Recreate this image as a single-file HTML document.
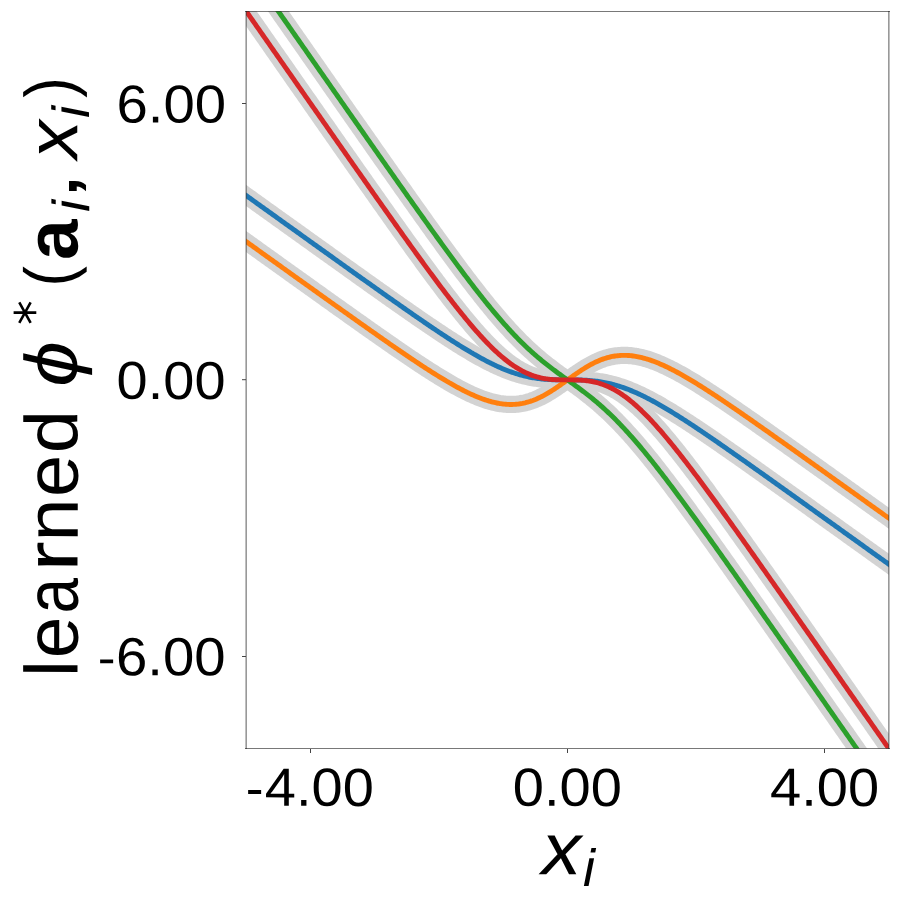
<!DOCTYPE html><html><head><meta charset="utf-8"><style>html,body{margin:0;padding:0;background:#fff;overflow:hidden}svg{display:block}text{font-family:"Liberation Sans",sans-serif;text-rendering:geometricPrecision}</style></head><body>
<svg width="900" height="900" viewBox="0 0 900 900">
<rect width="900" height="900" fill="#fff"/>
<defs><clipPath id="c"><rect x="246.25" y="11.30" width="642.50" height="737.20"/></clipPath></defs>
<g clip-path="url(#c)" fill="none" stroke-linejoin="round" stroke-linecap="butt">
<polyline points="207.70,167.95 208.98,168.88 210.27,169.80 211.56,170.72 212.84,171.64 214.12,172.56 215.41,173.48 216.69,174.40 217.98,175.33 219.27,176.25 220.55,177.17 221.84,178.09 223.12,179.01 224.41,179.93 225.69,180.85 226.98,181.78 228.26,182.70 229.55,183.62 230.83,184.54 232.12,185.46 233.40,186.38 234.69,187.30 235.97,188.22 237.26,189.15 238.54,190.07 239.83,190.99 241.11,191.91 242.40,192.83 243.68,193.75 244.97,194.67 246.25,195.60 247.54,196.52 248.82,197.44 250.11,198.36 251.39,199.28 252.68,200.20 253.96,201.12 255.25,202.04 256.53,202.97 257.82,203.89 259.10,204.81 260.39,205.73 261.67,206.65 262.96,207.57 264.24,208.49 265.53,209.41 266.81,210.34 268.10,211.26 269.38,212.18 270.67,213.10 271.95,214.02 273.24,214.94 274.52,215.86 275.81,216.78 277.09,217.71 278.38,218.63 279.66,219.55 280.95,220.47 282.23,221.39 283.51,222.31 284.80,223.23 286.09,224.15 287.37,225.07 288.66,225.99 289.94,226.91 291.23,227.84 292.51,228.76 293.80,229.68 295.08,230.60 296.37,231.52 297.65,232.44 298.94,233.36 300.22,234.28 301.50,235.20 302.79,236.12 304.08,237.04 305.36,237.96 306.65,238.88 307.93,239.80 309.22,240.72 310.50,241.64 311.79,242.56 313.07,243.48 314.36,244.40 315.64,245.32 316.93,246.24 318.21,247.16 319.50,248.08 320.78,249.00 322.07,249.92 323.35,250.84 324.64,251.76 325.92,252.68 327.21,253.60 328.49,254.52 329.78,255.44 331.06,256.36 332.35,257.28 333.63,258.20 334.92,259.12 336.20,260.04 337.49,260.95 338.77,261.87 340.06,262.79 341.34,263.71 342.62,264.63 343.91,265.55 345.20,266.46 346.48,267.38 347.77,268.30 349.05,269.22 350.34,270.13 351.62,271.05 352.91,271.97 354.19,272.89 355.48,273.80 356.76,274.72 358.05,275.63 359.33,276.55 360.62,277.47 361.90,278.38 363.19,279.30 364.47,280.21 365.75,281.13 367.04,282.04 368.33,282.96 369.61,283.87 370.90,284.78 372.18,285.70 373.47,286.61 374.75,287.52 376.04,288.43 377.32,289.35 378.61,290.26 379.89,291.17 381.18,292.08 382.46,292.99 383.75,293.90 385.03,294.81 386.32,295.72 387.60,296.63 388.88,297.53 390.17,298.44 391.46,299.35 392.74,300.25 394.03,301.16 395.31,302.06 396.60,302.97 397.88,303.87 399.17,304.77 400.45,305.67 401.74,306.58 403.02,307.48 404.31,308.37 405.59,309.27 406.88,310.17 408.16,311.07 409.45,311.96 410.73,312.86 412.02,313.75 413.30,314.64 414.59,315.53 415.87,316.42 417.16,317.31 418.44,318.20 419.73,319.09 421.01,319.97 422.30,320.85 423.58,321.73 424.87,322.61 426.15,323.49 427.44,324.37 428.72,325.24 430.00,326.12 431.29,326.99 432.58,327.86 433.86,328.72 435.15,329.59 436.43,330.45 437.72,331.31 439.00,332.17 440.29,333.02 441.57,333.88 442.86,334.73 444.14,335.57 445.43,336.42 446.71,337.26 448.00,338.10 449.28,338.93 450.57,339.76 451.85,340.59 453.14,341.41 454.42,342.23 455.71,343.05 456.99,343.86 458.27,344.67 459.56,345.48 460.85,346.28 462.13,347.07 463.42,347.86 464.70,348.65 465.99,349.43 467.27,350.20 468.56,350.97 469.84,351.73 471.12,352.49 472.41,353.24 473.69,353.99 474.98,354.73 476.26,355.46 477.55,356.19 478.83,356.91 480.12,357.62 481.40,358.32 482.69,359.02 483.98,359.71 485.26,360.39 486.54,361.06 487.83,361.72 489.12,362.38 490.40,363.02 491.69,363.66 492.97,364.28 494.25,364.90 495.54,365.50 496.83,366.10 498.11,366.69 499.39,367.26 500.68,367.82 501.97,368.38 503.25,368.92 504.54,369.44 505.82,369.96 507.11,370.46 508.39,370.96 509.68,371.44 510.96,371.90 512.25,372.36 513.53,372.80 514.82,373.22 516.10,373.64 517.38,374.03 518.67,374.42 519.96,374.79 521.24,375.15 522.53,375.49 523.81,375.82 525.10,376.14 526.38,376.44 527.66,376.73 528.95,377.00 530.24,377.26 531.52,377.50 532.81,377.73 534.09,377.95 535.38,378.15 536.66,378.34 537.94,378.52 539.23,378.69 540.51,378.84 541.80,378.98 543.09,379.10 544.37,379.22 545.65,379.32 546.94,379.42 548.23,379.50 549.51,379.57 550.80,379.64 552.08,379.69 553.37,379.74 554.65,379.78 555.93,379.81 557.22,379.84 558.51,379.86 559.79,379.87 561.08,379.88 562.36,379.89 563.64,379.90 564.93,379.90 566.22,379.90 567.50,379.90 568.79,379.90 570.07,379.90 571.36,379.90 572.64,379.91 573.92,379.92 575.21,379.93 576.50,379.94 577.78,379.96 579.07,379.99 580.35,380.02 581.63,380.06 582.92,380.11 584.21,380.16 585.49,380.23 586.78,380.30 588.06,380.38 589.35,380.48 590.63,380.58 591.91,380.70 593.20,380.82 594.49,380.96 595.77,381.11 597.06,381.28 598.34,381.46 599.62,381.65 600.91,381.85 602.20,382.07 603.48,382.30 604.77,382.54 606.05,382.80 607.34,383.07 608.62,383.36 609.90,383.66 611.19,383.98 612.48,384.31 613.76,384.65 615.05,385.01 616.33,385.38 617.62,385.77 618.90,386.16 620.19,386.58 621.47,387.00 622.76,387.44 624.04,387.90 625.33,388.36 626.61,388.84 627.89,389.34 629.18,389.84 630.47,390.36 631.75,390.88 633.04,391.42 634.32,391.98 635.61,392.54 636.89,393.11 638.18,393.70 639.46,394.30 640.75,394.90 642.03,395.52 643.32,396.14 644.60,396.78 645.88,397.42 647.17,398.08 648.46,398.74 649.74,399.41 651.03,400.09 652.31,400.78 653.60,401.48 654.88,402.18 656.17,402.89 657.45,403.61 658.74,404.34 660.02,405.07 661.31,405.81 662.59,406.56 663.88,407.31 665.16,408.07 666.45,408.83 667.73,409.60 669.02,410.37 670.30,411.15 671.59,411.94 672.87,412.73 674.15,413.52 675.44,414.32 676.73,415.13 678.01,415.94 679.30,416.75 680.58,417.57 681.87,418.39 683.15,419.21 684.44,420.04 685.72,420.87 687.01,421.70 688.29,422.54 689.58,423.38 690.86,424.23 692.14,425.07 693.43,425.92 694.72,426.78 696.00,427.63 697.29,428.49 698.57,429.35 699.86,430.21 701.14,431.08 702.43,431.94 703.71,432.81 705.00,433.68 706.28,434.56 707.57,435.43 708.85,436.31 710.13,437.19 711.42,438.07 712.71,438.95 713.99,439.83 715.28,440.71 716.56,441.60 717.85,442.49 719.13,443.38 720.42,444.27 721.70,445.16 722.99,446.05 724.27,446.94 725.56,447.84 726.84,448.73 728.12,449.63 729.41,450.53 730.70,451.43 731.98,452.32 733.26,453.22 734.55,454.13 735.84,455.03 737.12,455.93 738.40,456.83 739.69,457.74 740.98,458.64 742.26,459.55 743.55,460.45 744.83,461.36 746.12,462.27 747.40,463.17 748.68,464.08 749.97,464.99 751.26,465.90 752.54,466.81 753.83,467.72 755.11,468.63 756.40,469.54 757.68,470.45 758.97,471.37 760.25,472.28 761.54,473.19 762.82,474.10 764.11,475.02 765.39,475.93 766.68,476.84 767.96,477.76 769.25,478.67 770.53,479.59 771.81,480.50 773.10,481.42 774.38,482.33 775.67,483.25 776.95,484.17 778.24,485.08 779.53,486.00 780.81,486.91 782.10,487.83 783.38,488.75 784.67,489.67 785.95,490.58 787.24,491.50 788.52,492.42 789.81,493.34 791.09,494.25 792.38,495.17 793.66,496.09 794.95,497.01 796.23,497.93 797.51,498.85 798.80,499.76 800.09,500.68 801.37,501.60 802.65,502.52 803.94,503.44 805.23,504.36 806.51,505.28 807.79,506.20 809.08,507.12 810.37,508.04 811.65,508.96 812.94,509.88 814.22,510.80 815.51,511.72 816.79,512.64 818.08,513.56 819.36,514.48 820.65,515.40 821.93,516.32 823.22,517.24 824.50,518.16 825.79,519.08 827.07,520.00 828.36,520.92 829.64,521.84 830.93,522.76 832.21,523.68 833.50,524.60 834.78,525.52 836.06,526.44 837.35,527.36 838.63,528.28 839.92,529.20 841.20,530.12 842.49,531.04 843.77,531.96 845.06,532.89 846.34,533.81 847.63,534.73 848.92,535.65 850.20,536.57 851.49,537.49 852.77,538.41 854.06,539.33 855.34,540.25 856.62,541.17 857.91,542.09 859.20,543.02 860.48,543.94 861.76,544.86 863.05,545.78 864.34,546.70 865.62,547.62 866.90,548.54 868.19,549.46 869.48,550.39 870.76,551.31 872.04,552.23 873.33,553.15 874.62,554.07 875.90,554.99 877.18,555.91 878.47,556.83 879.76,557.76 881.04,558.68 882.33,559.60 883.61,560.52 884.90,561.44 886.18,562.36 887.47,563.28 888.75,564.20 890.04,565.13 891.32,566.05 892.61,566.97 893.89,567.89 895.18,568.81 896.46,569.73 897.75,570.65 899.03,571.58 900.32,572.50 901.60,573.42 902.88,574.34 904.17,575.26 905.46,576.18 906.74,577.10 908.02,578.02 909.31,578.95 910.60,579.87 911.88,580.79 913.17,581.71 914.45,582.63 915.74,583.55 917.02,584.47 918.31,585.40 919.59,586.32 920.88,587.24 922.16,588.16 923.45,589.08 924.73,590.00 926.01,590.92 927.30,591.85" stroke="#d3d3d3" stroke-width="17.20"/>
<polyline points="207.70,214.03 208.98,214.95 210.27,215.87 211.56,216.79 212.84,217.71 214.12,218.63 215.41,219.56 216.69,220.48 217.98,221.40 219.27,222.32 220.55,223.24 221.84,224.16 223.12,225.08 224.41,226.01 225.69,226.93 226.98,227.85 228.26,228.77 229.55,229.69 230.83,230.61 232.12,231.53 233.40,232.45 234.69,233.38 235.97,234.30 237.26,235.22 238.54,236.14 239.83,237.06 241.11,237.98 242.40,238.90 243.68,239.82 244.97,240.75 246.25,241.67 247.54,242.59 248.82,243.51 250.11,244.43 251.39,245.35 252.68,246.27 253.96,247.19 255.25,248.11 256.53,249.04 257.82,249.96 259.10,250.88 260.39,251.80 261.67,252.72 262.96,253.64 264.24,254.56 265.53,255.48 266.81,256.40 268.10,257.32 269.38,258.24 270.67,259.17 271.95,260.09 273.24,261.01 274.52,261.93 275.81,262.85 277.09,263.77 278.38,264.69 279.66,265.61 280.95,266.53 282.23,267.45 283.51,268.37 284.80,269.29 286.09,270.21 287.37,271.13 288.66,272.05 289.94,272.97 291.23,273.89 292.51,274.81 293.80,275.73 295.08,276.65 296.37,277.57 297.65,278.49 298.94,279.41 300.22,280.33 301.50,281.25 302.79,282.17 304.08,283.09 305.36,284.01 306.65,284.93 307.93,285.85 309.22,286.77 310.50,287.69 311.79,288.61 313.07,289.53 314.36,290.44 315.64,291.36 316.93,292.28 318.21,293.20 319.50,294.12 320.78,295.04 322.07,295.95 323.35,296.87 324.64,297.79 325.92,298.71 327.21,299.63 328.49,300.54 329.78,301.46 331.06,302.38 332.35,303.29 333.63,304.21 334.92,305.13 336.20,306.04 337.49,306.96 338.77,307.87 340.06,308.79 341.34,309.70 342.62,310.62 343.91,311.53 345.20,312.45 346.48,313.36 347.77,314.28 349.05,315.19 350.34,316.10 351.62,317.02 352.91,317.93 354.19,318.84 355.48,319.75 356.76,320.66 358.05,321.57 359.33,322.48 360.62,323.39 361.90,324.30 363.19,325.21 364.47,326.12 365.75,327.03 367.04,327.94 368.33,328.84 369.61,329.75 370.90,330.66 372.18,331.56 373.47,332.47 374.75,333.37 376.04,334.27 377.32,335.17 378.61,336.08 379.89,336.98 381.18,337.88 382.46,338.78 383.75,339.67 385.03,340.57 386.32,341.47 387.60,342.36 388.88,343.25 390.17,344.15 391.46,345.04 392.74,345.93 394.03,346.82 395.31,347.71 396.60,348.59 397.88,349.48 399.17,350.36 400.45,351.24 401.74,352.12 403.02,353.00 404.31,353.88 405.59,354.76 406.88,355.63 408.16,356.50 409.45,357.37 410.73,358.24 412.02,359.10 413.30,359.97 414.59,360.83 415.87,361.68 417.16,362.54 418.44,363.39 419.73,364.24 421.01,365.09 422.30,365.94 423.58,366.78 424.87,367.61 426.15,368.45 427.44,369.28 428.72,370.11 430.00,370.93 431.29,371.75 432.58,372.57 433.86,373.38 435.15,374.19 436.43,374.99 437.72,375.79 439.00,376.59 440.29,377.37 441.57,378.16 442.86,378.94 444.14,379.71 445.43,380.47 446.71,381.24 448.00,381.99 449.28,382.74 450.57,383.48 451.85,384.21 453.14,384.94 454.42,385.66 455.71,386.37 456.99,387.08 458.27,387.77 459.56,388.46 460.85,389.14 462.13,389.80 463.42,390.46 464.70,391.11 465.99,391.75 467.27,392.38 468.56,393.00 469.84,393.60 471.12,394.20 472.41,394.78 473.69,395.35 474.98,395.91 476.26,396.45 477.55,396.98 478.83,397.50 480.12,398.00 481.40,398.48 482.69,398.96 483.98,399.41 485.26,399.85 486.54,400.27 487.83,400.68 489.12,401.06 490.40,401.43 491.69,401.78 492.97,402.11 494.25,402.42 495.54,402.71 496.83,402.98 498.11,403.23 499.39,403.46 500.68,403.66 501.97,403.85 503.25,404.01 504.54,404.14 505.82,404.25 507.11,404.34 508.39,404.40 509.68,404.44 510.96,404.45 512.25,404.44 513.53,404.39 514.82,404.33 516.10,404.23 517.38,404.11 518.67,403.96 519.96,403.78 521.24,403.57 522.53,403.34 523.81,403.08 525.10,402.79 526.38,402.47 527.66,402.12 528.95,401.74 530.24,401.34 531.52,400.91 532.81,400.45 534.09,399.96 535.38,399.45 536.66,398.91 537.94,398.34 539.23,397.74 540.51,397.13 541.80,396.48 543.09,395.81 544.37,395.12 545.65,394.41 546.94,393.68 548.23,392.92 549.51,392.15 550.80,391.35 552.08,390.54 553.37,389.72 554.65,388.87 555.93,388.02 557.22,387.15 558.51,386.27 559.79,385.38 561.08,384.48 562.36,383.57 563.64,382.66 564.93,381.74 566.22,380.82 567.50,379.90 568.79,378.98 570.07,378.06 571.36,377.14 572.64,376.23 573.92,375.32 575.21,374.42 576.50,373.53 577.78,372.65 579.07,371.78 580.35,370.93 581.63,370.08 582.92,369.26 584.21,368.45 585.49,367.65 586.78,366.88 588.06,366.12 589.35,365.39 590.63,364.68 591.91,363.99 593.20,363.32 594.49,362.67 595.77,362.06 597.06,361.46 598.34,360.89 599.62,360.35 600.91,359.84 602.20,359.35 603.48,358.89 604.77,358.46 606.05,358.06 607.34,357.68 608.62,357.33 609.90,357.01 611.19,356.72 612.48,356.46 613.76,356.23 615.05,356.02 616.33,355.84 617.62,355.69 618.90,355.57 620.19,355.47 621.47,355.41 622.76,355.36 624.04,355.35 625.33,355.36 626.61,355.40 627.89,355.46 629.18,355.55 630.47,355.66 631.75,355.79 633.04,355.95 634.32,356.14 635.61,356.34 636.89,356.57 638.18,356.82 639.46,357.09 640.75,357.38 642.03,357.69 643.32,358.02 644.60,358.37 645.88,358.74 647.17,359.12 648.46,359.53 649.74,359.95 651.03,360.39 652.31,360.84 653.60,361.32 654.88,361.80 656.17,362.30 657.45,362.82 658.74,363.35 660.02,363.89 661.31,364.45 662.59,365.02 663.88,365.60 665.16,366.20 666.45,366.80 667.73,367.42 669.02,368.05 670.30,368.69 671.59,369.34 672.87,370.00 674.15,370.66 675.44,371.34 676.73,372.03 678.01,372.72 679.30,373.43 680.58,374.14 681.87,374.86 683.15,375.59 684.44,376.32 685.72,377.06 687.01,377.81 688.29,378.56 689.58,379.33 690.86,380.09 692.14,380.86 693.43,381.64 694.72,382.43 696.00,383.21 697.29,384.01 698.57,384.81 699.86,385.61 701.14,386.42 702.43,387.23 703.71,388.05 705.00,388.87 706.28,389.69 707.57,390.52 708.85,391.35 710.13,392.19 711.42,393.02 712.71,393.86 713.99,394.71 715.28,395.56 716.56,396.41 717.85,397.26 719.13,398.12 720.42,398.97 721.70,399.83 722.99,400.70 724.27,401.56 725.56,402.43 726.84,403.30 728.12,404.17 729.41,405.04 730.70,405.92 731.98,406.80 733.26,407.68 734.55,408.56 735.84,409.44 737.12,410.32 738.40,411.21 739.69,412.09 740.98,412.98 742.26,413.87 743.55,414.76 744.83,415.65 746.12,416.55 747.40,417.44 748.68,418.33 749.97,419.23 751.26,420.13 752.54,421.02 753.83,421.92 755.11,422.82 756.40,423.72 757.68,424.63 758.97,425.53 760.25,426.43 761.54,427.33 762.82,428.24 764.11,429.14 765.39,430.05 766.68,430.96 767.96,431.86 769.25,432.77 770.53,433.68 771.81,434.59 773.10,435.50 774.38,436.41 775.67,437.32 776.95,438.23 778.24,439.14 779.53,440.05 780.81,440.96 782.10,441.87 783.38,442.78 784.67,443.70 785.95,444.61 787.24,445.52 788.52,446.44 789.81,447.35 791.09,448.27 792.38,449.18 793.66,450.10 794.95,451.01 796.23,451.93 797.51,452.84 798.80,453.76 800.09,454.67 801.37,455.59 802.65,456.51 803.94,457.42 805.23,458.34 806.51,459.26 807.79,460.17 809.08,461.09 810.37,462.01 811.65,462.93 812.94,463.85 814.22,464.76 815.51,465.68 816.79,466.60 818.08,467.52 819.36,468.44 820.65,469.36 821.93,470.27 823.22,471.19 824.50,472.11 825.79,473.03 827.07,473.95 828.36,474.87 829.64,475.79 830.93,476.71 832.21,477.63 833.50,478.55 834.78,479.47 836.06,480.39 837.35,481.31 838.63,482.23 839.92,483.15 841.20,484.07 842.49,484.99 843.77,485.91 845.06,486.83 846.34,487.75 847.63,488.67 848.92,489.59 850.20,490.51 851.49,491.43 852.77,492.35 854.06,493.27 855.34,494.19 856.62,495.11 857.91,496.03 859.20,496.95 860.48,497.87 861.76,498.79 863.05,499.71 864.34,500.63 865.62,501.56 866.90,502.48 868.19,503.40 869.48,504.32 870.76,505.24 872.04,506.16 873.33,507.08 874.62,508.00 875.90,508.92 877.18,509.84 878.47,510.76 879.76,511.69 881.04,512.61 882.33,513.53 883.61,514.45 884.90,515.37 886.18,516.29 887.47,517.21 888.75,518.13 890.04,519.05 891.32,519.98 892.61,520.90 893.89,521.82 895.18,522.74 896.46,523.66 897.75,524.58 899.03,525.50 900.32,526.42 901.60,527.35 902.88,528.27 904.17,529.19 905.46,530.11 906.74,531.03 908.02,531.95 909.31,532.87 910.60,533.79 911.88,534.72 913.17,535.64 914.45,536.56 915.74,537.48 917.02,538.40 918.31,539.32 919.59,540.24 920.88,541.17 922.16,542.09 923.45,543.01 924.73,543.93 926.01,544.85 927.30,545.77" stroke="#d3d3d3" stroke-width="17.20"/>
<polyline points="207.70,-90.07 208.98,-88.22 210.27,-86.38 211.56,-84.54 212.84,-82.69 214.12,-80.85 215.41,-79.01 216.69,-77.17 217.98,-75.32 219.27,-73.48 220.55,-71.64 221.84,-69.79 223.12,-67.95 224.41,-66.11 225.69,-64.27 226.98,-62.42 228.26,-60.58 229.55,-58.74 230.83,-56.89 232.12,-55.05 233.40,-53.21 234.69,-51.36 235.97,-49.52 237.26,-47.68 238.54,-45.84 239.83,-43.99 241.11,-42.15 242.40,-40.31 243.68,-38.46 244.97,-36.62 246.25,-34.78 247.54,-32.94 248.82,-31.09 250.11,-29.25 251.39,-27.41 252.68,-25.57 253.96,-23.72 255.25,-21.88 256.53,-20.04 257.82,-18.19 259.10,-16.35 260.39,-14.51 261.67,-12.67 262.96,-10.82 264.24,-8.98 265.53,-7.14 266.81,-5.29 268.10,-3.45 269.38,-1.61 270.67,0.23 271.95,2.08 273.24,3.92 274.52,5.76 275.81,7.60 277.09,9.45 278.38,11.29 279.66,13.13 280.95,14.97 282.23,16.82 283.51,18.66 284.80,20.50 286.09,22.34 287.37,24.19 288.66,26.03 289.94,27.87 291.23,29.71 292.51,31.56 293.80,33.40 295.08,35.24 296.37,37.08 297.65,38.92 298.94,40.77 300.22,42.61 301.50,44.45 302.79,46.29 304.08,48.13 305.36,49.98 306.65,51.82 307.93,53.66 309.22,55.50 310.50,57.34 311.79,59.19 313.07,61.03 314.36,62.87 315.64,64.71 316.93,66.55 318.21,68.39 319.50,70.24 320.78,72.08 322.07,73.92 323.35,75.76 324.64,77.60 325.92,79.44 327.21,81.28 328.49,83.12 329.78,84.96 331.06,86.80 332.35,88.65 333.63,90.49 334.92,92.33 336.20,94.17 337.49,96.01 338.77,97.85 340.06,99.69 341.34,101.53 342.62,103.37 343.91,105.21 345.20,107.05 346.48,108.88 347.77,110.72 349.05,112.56 350.34,114.40 351.62,116.24 352.91,118.08 354.19,119.92 355.48,121.75 356.76,123.59 358.05,125.43 359.33,127.27 360.62,129.11 361.90,130.94 363.19,132.78 364.47,134.62 365.75,136.45 367.04,138.29 368.33,140.12 369.61,141.96 370.90,143.79 372.18,145.63 373.47,147.46 374.75,149.30 376.04,151.13 377.32,152.96 378.61,154.80 379.89,156.63 381.18,158.46 382.46,160.29 383.75,162.12 385.03,163.96 386.32,165.79 387.60,167.62 388.88,169.44 390.17,171.27 391.46,173.10 392.74,174.93 394.03,176.76 395.31,178.58 396.60,180.41 397.88,182.23 399.17,184.06 400.45,185.88 401.74,187.70 403.02,189.52 404.31,191.34 405.59,193.16 406.88,194.98 408.16,196.80 409.45,198.62 410.73,200.43 412.02,202.25 413.30,204.06 414.59,205.88 415.87,207.69 417.16,209.50 418.44,211.31 419.73,213.11 421.01,214.92 422.30,216.72 423.58,218.53 424.87,220.33 426.15,222.13 427.44,223.93 428.72,225.72 430.00,227.52 431.29,229.31 432.58,231.10 433.86,232.89 435.15,234.67 436.43,236.46 437.72,238.24 439.00,240.02 440.29,241.79 441.57,243.57 442.86,245.34 444.14,247.11 445.43,248.87 446.71,250.64 448.00,252.40 449.28,254.15 450.57,255.90 451.85,257.65 453.14,259.40 454.42,261.14 455.71,262.88 456.99,264.61 458.27,266.34 459.56,268.07 460.85,269.79 462.13,271.51 463.42,273.22 464.70,274.93 465.99,276.63 467.27,278.32 468.56,280.01 469.84,281.70 471.12,283.38 472.41,285.05 473.69,286.72 474.98,288.38 476.26,290.04 477.55,291.68 478.83,293.32 480.12,294.96 481.40,296.58 482.69,298.20 483.98,299.81 485.26,301.41 486.54,303.00 487.83,304.59 489.12,306.16 490.40,307.73 491.69,309.29 492.97,310.84 494.25,312.37 495.54,313.90 496.83,315.42 498.11,316.92 499.39,318.42 500.68,319.91 501.97,321.38 503.25,322.84 504.54,324.29 505.82,325.73 507.11,327.15 508.39,328.57 509.68,329.97 510.96,331.36 512.25,332.73 513.53,334.09 514.82,335.44 516.10,336.78 517.38,338.10 518.67,339.40 519.96,340.70 521.24,341.98 522.53,343.24 523.81,344.49 525.10,345.73 526.38,346.95 527.66,348.16 528.95,349.35 530.24,350.53 531.52,351.70 532.81,352.85 534.09,353.99 535.38,355.12 536.66,356.23 537.94,357.33 539.23,358.41 540.51,359.49 541.80,360.55 543.09,361.59 544.37,362.63 545.65,363.66 546.94,364.67 548.23,365.68 549.51,366.67 550.80,367.66 552.08,368.63 553.37,369.60 554.65,370.56 555.93,371.52 557.22,372.47 558.51,373.41 559.79,374.34 561.08,375.28 562.36,376.21 563.64,377.13 564.93,378.06 566.22,378.98 567.50,379.90 568.79,380.82 570.07,381.74 571.36,382.67 572.64,383.59 573.92,384.52 575.21,385.46 576.50,386.39 577.78,387.33 579.07,388.28 580.35,389.24 581.63,390.20 582.92,391.17 584.21,392.14 585.49,393.13 586.78,394.12 588.06,395.13 589.35,396.14 590.63,397.17 591.91,398.21 593.20,399.25 594.49,400.31 595.77,401.39 597.06,402.47 598.34,403.57 599.62,404.68 600.91,405.81 602.20,406.95 603.48,408.10 604.77,409.27 606.05,410.45 607.34,411.64 608.62,412.85 609.90,414.07 611.19,415.31 612.48,416.56 613.76,417.82 615.05,419.10 616.33,420.40 617.62,421.70 618.90,423.02 620.19,424.36 621.47,425.71 622.76,427.07 624.04,428.44 625.33,429.83 626.61,431.23 627.89,432.65 629.18,434.07 630.47,435.51 631.75,436.96 633.04,438.42 634.32,439.89 635.61,441.38 636.89,442.88 638.18,444.38 639.46,445.90 640.75,447.43 642.03,448.96 643.32,450.51 644.60,452.07 645.88,453.64 647.17,455.21 648.46,456.80 649.74,458.39 651.03,459.99 652.31,461.60 653.60,463.22 654.88,464.84 656.17,466.48 657.45,468.12 658.74,469.76 660.02,471.42 661.31,473.08 662.59,474.75 663.88,476.42 665.16,478.10 666.45,479.79 667.73,481.48 669.02,483.17 670.30,484.87 671.59,486.58 672.87,488.29 674.15,490.01 675.44,491.73 676.73,493.46 678.01,495.19 679.30,496.92 680.58,498.66 681.87,500.40 683.15,502.15 684.44,503.90 685.72,505.65 687.01,507.40 688.29,509.16 689.58,510.93 690.86,512.69 692.14,514.46 693.43,516.23 694.72,518.01 696.00,519.78 697.29,521.56 698.57,523.34 699.86,525.13 701.14,526.91 702.43,528.70 703.71,530.49 705.00,532.28 706.28,534.08 707.57,535.87 708.85,537.67 710.13,539.47 711.42,541.27 712.71,543.08 713.99,544.88 715.28,546.69 716.56,548.49 717.85,550.30 719.13,552.11 720.42,553.92 721.70,555.74 722.99,557.55 724.27,559.37 725.56,561.18 726.84,563.00 728.12,564.82 729.41,566.64 730.70,568.46 731.98,570.28 733.26,572.10 734.55,573.92 735.84,575.74 737.12,577.57 738.40,579.39 739.69,581.22 740.98,583.04 742.26,584.87 743.55,586.70 744.83,588.53 746.12,590.36 747.40,592.18 748.68,594.01 749.97,595.84 751.26,597.68 752.54,599.51 753.83,601.34 755.11,603.17 756.40,605.00 757.68,606.84 758.97,608.67 760.25,610.50 761.54,612.34 762.82,614.17 764.11,616.01 765.39,617.84 766.68,619.68 767.96,621.51 769.25,623.35 770.53,625.18 771.81,627.02 773.10,628.86 774.38,630.69 775.67,632.53 776.95,634.37 778.24,636.21 779.53,638.05 780.81,639.88 782.10,641.72 783.38,643.56 784.67,645.40 785.95,647.24 787.24,649.08 788.52,650.92 789.81,652.75 791.09,654.59 792.38,656.43 793.66,658.27 794.95,660.11 796.23,661.95 797.51,663.79 798.80,665.63 800.09,667.47 801.37,669.31 802.65,671.15 803.94,673.00 805.23,674.84 806.51,676.68 807.79,678.52 809.08,680.36 810.37,682.20 811.65,684.04 812.94,685.88 814.22,687.72 815.51,689.56 816.79,691.41 818.08,693.25 819.36,695.09 820.65,696.93 821.93,698.77 823.22,700.61 824.50,702.46 825.79,704.30 827.07,706.14 828.36,707.98 829.64,709.82 830.93,711.67 832.21,713.51 833.50,715.35 834.78,717.19 836.06,719.03 837.35,720.88 838.63,722.72 839.92,724.56 841.20,726.40 842.49,728.24 843.77,730.09 845.06,731.93 846.34,733.77 847.63,735.61 848.92,737.46 850.20,739.30 851.49,741.14 852.77,742.98 854.06,744.83 855.34,746.67 856.62,748.51 857.91,750.35 859.20,752.20 860.48,754.04 861.76,755.88 863.05,757.72 864.34,759.57 865.62,761.41 866.90,763.25 868.19,765.09 869.48,766.94 870.76,768.78 872.04,770.62 873.33,772.47 874.62,774.31 875.90,776.15 877.18,777.99 878.47,779.84 879.76,781.68 881.04,783.52 882.33,785.37 883.61,787.21 884.90,789.05 886.18,790.89 887.47,792.74 888.75,794.58 890.04,796.42 891.32,798.26 892.61,800.11 893.89,801.95 895.18,803.79 896.46,805.64 897.75,807.48 899.03,809.32 900.32,811.16 901.60,813.01 902.88,814.85 904.17,816.69 905.46,818.54 906.74,820.38 908.02,822.22 909.31,824.07 910.60,825.91 911.88,827.75 913.17,829.59 914.45,831.44 915.74,833.28 917.02,835.12 918.31,836.97 919.59,838.81 920.88,840.65 922.16,842.49 923.45,844.34 924.73,846.18 926.01,848.02 927.30,849.87" stroke="#d3d3d3" stroke-width="17.20"/>
<polyline points="207.70,-43.99 208.98,-42.15 210.27,-40.31 211.56,-38.46 212.84,-36.62 214.12,-34.78 215.41,-32.94 216.69,-31.09 217.98,-29.25 219.27,-27.41 220.55,-25.56 221.84,-23.72 223.12,-21.88 224.41,-20.04 225.69,-18.19 226.98,-16.35 228.26,-14.51 229.55,-12.66 230.83,-10.82 232.12,-8.98 233.40,-7.14 234.69,-5.29 235.97,-3.45 237.26,-1.61 238.54,0.24 239.83,2.08 241.11,3.92 242.40,5.76 243.68,7.61 244.97,9.45 246.25,11.29 247.54,13.13 248.82,14.98 250.11,16.82 251.39,18.66 252.68,20.50 253.96,22.35 255.25,24.19 256.53,26.03 257.82,27.88 259.10,29.72 260.39,31.56 261.67,33.40 262.96,35.24 264.24,37.09 265.53,38.93 266.81,40.77 268.10,42.61 269.38,44.46 270.67,46.30 271.95,48.14 273.24,49.98 274.52,51.83 275.81,53.67 277.09,55.51 278.38,57.35 279.66,59.19 280.95,61.04 282.23,62.88 283.51,64.72 284.80,66.56 286.09,68.40 287.37,70.25 288.66,72.09 289.94,73.93 291.23,75.77 292.51,77.61 293.80,79.45 295.08,81.30 296.37,83.14 297.65,84.98 298.94,86.82 300.22,88.66 301.50,90.50 302.79,92.34 304.08,94.18 305.36,96.03 306.65,97.87 307.93,99.71 309.22,101.55 310.50,103.39 311.79,105.23 313.07,107.07 314.36,108.91 315.64,110.75 316.93,112.59 318.21,114.43 319.50,116.27 320.78,118.11 322.07,119.95 323.35,121.79 324.64,123.63 325.92,125.47 327.21,127.31 328.49,129.14 329.78,130.98 331.06,132.82 332.35,134.66 333.63,136.50 334.92,138.33 336.20,140.17 337.49,142.01 338.77,143.85 340.06,145.68 341.34,147.52 342.62,149.36 343.91,151.19 345.20,153.03 346.48,154.86 347.77,156.70 349.05,158.53 350.34,160.37 351.62,162.20 352.91,164.04 354.19,165.87 355.48,167.70 356.76,169.54 358.05,171.37 359.33,173.20 360.62,175.03 361.90,176.86 363.19,178.69 364.47,180.52 365.75,182.35 367.04,184.18 368.33,186.01 369.61,187.84 370.90,189.67 372.18,191.49 373.47,193.32 374.75,195.14 376.04,196.97 377.32,198.79 378.61,200.62 379.89,202.44 381.18,204.26 382.46,206.08 383.75,207.90 385.03,209.72 386.32,211.53 387.60,213.35 388.88,215.17 390.17,216.98 391.46,218.79 392.74,220.61 394.03,222.42 395.31,224.23 396.60,226.03 397.88,227.84 399.17,229.65 400.45,231.45 401.74,233.25 403.02,235.05 404.31,236.85 405.59,238.65 406.88,240.44 408.16,242.23 409.45,244.03 410.73,245.81 412.02,247.60 413.30,249.39 414.59,251.17 415.87,252.95 417.16,254.72 418.44,256.50 419.73,258.27 421.01,260.04 422.30,261.81 423.58,263.57 424.87,265.33 426.15,267.08 427.44,268.84 428.72,270.59 430.00,272.33 431.29,274.07 432.58,275.81 433.86,277.55 435.15,279.27 436.43,281.00 437.72,282.72 439.00,284.44 440.29,286.15 441.57,287.85 442.86,289.55 444.14,291.24 445.43,292.93 446.71,294.61 448.00,296.29 449.28,297.96 450.57,299.62 451.85,301.28 453.14,302.93 454.42,304.57 455.71,306.20 456.99,307.83 458.27,309.44 459.56,311.05 460.85,312.65 462.13,314.24 463.42,315.82 464.70,317.39 465.99,318.95 467.27,320.50 468.56,322.04 469.84,323.57 471.12,325.08 472.41,326.59 473.69,328.08 474.98,329.56 476.26,331.02 477.55,332.48 478.83,333.91 480.12,335.34 481.40,336.74 482.69,338.14 483.98,339.51 485.26,340.87 486.54,342.22 487.83,343.54 489.12,344.85 490.40,346.14 491.69,347.41 492.97,348.66 494.25,349.90 495.54,351.11 496.83,352.30 498.11,353.47 499.39,354.62 500.68,355.75 501.97,356.85 503.25,357.93 504.54,358.99 505.82,360.02 507.11,361.03 508.39,362.01 509.68,362.97 510.96,363.90 512.25,364.81 513.53,365.69 514.82,366.54 516.10,367.37 517.38,368.17 518.67,368.94 519.96,369.68 521.24,370.40 522.53,371.09 523.81,371.75 525.10,372.38 526.38,372.98 527.66,373.55 528.95,374.10 530.24,374.62 531.52,375.11 532.81,375.57 534.09,376.00 535.38,376.41 536.66,376.79 537.94,377.14 539.23,377.47 540.51,377.77 541.80,378.05 543.09,378.31 544.37,378.54 545.65,378.75 546.94,378.93 548.23,379.10 549.51,379.25 550.80,379.37 552.08,379.48 553.37,379.58 554.65,379.66 555.93,379.72 557.22,379.78 558.51,379.82 559.79,379.85 561.08,379.87 562.36,379.88 563.64,379.89 564.93,379.90 566.22,379.90 567.50,379.90 568.79,379.90 570.07,379.90 571.36,379.91 572.64,379.92 573.92,379.93 575.21,379.95 576.50,379.98 577.78,380.02 579.07,380.08 580.35,380.14 581.63,380.22 582.92,380.32 584.21,380.43 585.49,380.55 586.78,380.70 588.06,380.87 589.35,381.05 590.63,381.26 591.91,381.49 593.20,381.75 594.49,382.03 595.77,382.33 597.06,382.66 598.34,383.01 599.62,383.39 600.91,383.80 602.20,384.23 603.48,384.69 604.77,385.18 606.05,385.70 607.34,386.25 608.62,386.82 609.90,387.42 611.19,388.05 612.48,388.71 613.76,389.40 615.05,390.12 616.33,390.86 617.62,391.63 618.90,392.43 620.19,393.26 621.47,394.11 622.76,394.99 624.04,395.90 625.33,396.83 626.61,397.79 627.89,398.77 629.18,399.78 630.47,400.81 631.75,401.87 633.04,402.95 634.32,404.05 635.61,405.18 636.89,406.33 638.18,407.50 639.46,408.69 640.75,409.90 642.03,411.14 643.32,412.39 644.60,413.66 645.88,414.95 647.17,416.26 648.46,417.58 649.74,418.93 651.03,420.29 652.31,421.66 653.60,423.06 654.88,424.46 656.17,425.89 657.45,427.32 658.74,428.78 660.02,430.24 661.31,431.72 662.59,433.21 663.88,434.72 665.16,436.23 666.45,437.76 667.73,439.30 669.02,440.85 670.30,442.41 671.59,443.98 672.87,445.56 674.15,447.15 675.44,448.75 676.73,450.36 678.01,451.97 679.30,453.60 680.58,455.23 681.87,456.87 683.15,458.52 684.44,460.18 685.72,461.84 687.01,463.51 688.29,465.19 689.58,466.87 690.86,468.56 692.14,470.25 693.43,471.95 694.72,473.65 696.00,475.36 697.29,477.08 698.57,478.80 699.86,480.53 701.14,482.25 702.43,483.99 703.71,485.73 705.00,487.47 706.28,489.21 707.57,490.96 708.85,492.72 710.13,494.47 711.42,496.23 712.71,497.99 713.99,499.76 715.28,501.53 716.56,503.30 717.85,505.08 719.13,506.85 720.42,508.63 721.70,510.41 722.99,512.20 724.27,513.99 725.56,515.77 726.84,517.57 728.12,519.36 729.41,521.15 730.70,522.95 731.98,524.75 733.26,526.55 734.55,528.35 735.84,530.15 737.12,531.96 738.40,533.77 739.69,535.57 740.98,537.38 742.26,539.19 743.55,541.01 744.83,542.82 746.12,544.63 747.40,546.45 748.68,548.27 749.97,550.08 751.26,551.90 752.54,553.72 753.83,555.54 755.11,557.36 756.40,559.18 757.68,561.01 758.97,562.83 760.25,564.66 761.54,566.48 762.82,568.31 764.11,570.13 765.39,571.96 766.68,573.79 767.96,575.62 769.25,577.45 770.53,579.28 771.81,581.11 773.10,582.94 774.38,584.77 775.67,586.60 776.95,588.43 778.24,590.26 779.53,592.10 780.81,593.93 782.10,595.76 783.38,597.60 784.67,599.43 785.95,601.27 787.24,603.10 788.52,604.94 789.81,606.77 791.09,608.61 792.38,610.44 793.66,612.28 794.95,614.12 796.23,615.95 797.51,617.79 798.80,619.63 800.09,621.47 801.37,623.30 802.65,625.14 803.94,626.98 805.23,628.82 806.51,630.66 807.79,632.49 809.08,634.33 810.37,636.17 811.65,638.01 812.94,639.85 814.22,641.69 815.51,643.53 816.79,645.37 818.08,647.21 819.36,649.05 820.65,650.89 821.93,652.73 823.22,654.57 824.50,656.41 825.79,658.25 827.07,660.09 828.36,661.93 829.64,663.77 830.93,665.62 832.21,667.46 833.50,669.30 834.78,671.14 836.06,672.98 837.35,674.82 838.63,676.66 839.92,678.50 841.20,680.35 842.49,682.19 843.77,684.03 845.06,685.87 846.34,687.71 847.63,689.55 848.92,691.40 850.20,693.24 851.49,695.08 852.77,696.92 854.06,698.76 855.34,700.61 856.62,702.45 857.91,704.29 859.20,706.13 860.48,707.97 861.76,709.82 863.05,711.66 864.34,713.50 865.62,715.34 866.90,717.19 868.19,719.03 869.48,720.87 870.76,722.71 872.04,724.56 873.33,726.40 874.62,728.24 875.90,730.08 877.18,731.92 878.47,733.77 879.76,735.61 881.04,737.45 882.33,739.30 883.61,741.14 884.90,742.98 886.18,744.82 887.47,746.67 888.75,748.51 890.04,750.35 891.32,752.19 892.61,754.04 893.89,755.88 895.18,757.72 896.46,759.56 897.75,761.41 899.03,763.25 900.32,765.09 901.60,766.94 902.88,768.78 904.17,770.62 905.46,772.46 906.74,774.31 908.02,776.15 909.31,777.99 910.60,779.84 911.88,781.68 913.17,783.52 914.45,785.36 915.74,787.21 917.02,789.05 918.31,790.89 919.59,792.74 920.88,794.58 922.16,796.42 923.45,798.26 924.73,800.11 926.01,801.95 927.30,803.79" stroke="#d3d3d3" stroke-width="17.20"/>
<polyline points="207.70,167.95 208.98,168.88 210.27,169.80 211.56,170.72 212.84,171.64 214.12,172.56 215.41,173.48 216.69,174.40 217.98,175.33 219.27,176.25 220.55,177.17 221.84,178.09 223.12,179.01 224.41,179.93 225.69,180.85 226.98,181.78 228.26,182.70 229.55,183.62 230.83,184.54 232.12,185.46 233.40,186.38 234.69,187.30 235.97,188.22 237.26,189.15 238.54,190.07 239.83,190.99 241.11,191.91 242.40,192.83 243.68,193.75 244.97,194.67 246.25,195.60 247.54,196.52 248.82,197.44 250.11,198.36 251.39,199.28 252.68,200.20 253.96,201.12 255.25,202.04 256.53,202.97 257.82,203.89 259.10,204.81 260.39,205.73 261.67,206.65 262.96,207.57 264.24,208.49 265.53,209.41 266.81,210.34 268.10,211.26 269.38,212.18 270.67,213.10 271.95,214.02 273.24,214.94 274.52,215.86 275.81,216.78 277.09,217.71 278.38,218.63 279.66,219.55 280.95,220.47 282.23,221.39 283.51,222.31 284.80,223.23 286.09,224.15 287.37,225.07 288.66,225.99 289.94,226.91 291.23,227.84 292.51,228.76 293.80,229.68 295.08,230.60 296.37,231.52 297.65,232.44 298.94,233.36 300.22,234.28 301.50,235.20 302.79,236.12 304.08,237.04 305.36,237.96 306.65,238.88 307.93,239.80 309.22,240.72 310.50,241.64 311.79,242.56 313.07,243.48 314.36,244.40 315.64,245.32 316.93,246.24 318.21,247.16 319.50,248.08 320.78,249.00 322.07,249.92 323.35,250.84 324.64,251.76 325.92,252.68 327.21,253.60 328.49,254.52 329.78,255.44 331.06,256.36 332.35,257.28 333.63,258.20 334.92,259.12 336.20,260.04 337.49,260.95 338.77,261.87 340.06,262.79 341.34,263.71 342.62,264.63 343.91,265.55 345.20,266.46 346.48,267.38 347.77,268.30 349.05,269.22 350.34,270.13 351.62,271.05 352.91,271.97 354.19,272.89 355.48,273.80 356.76,274.72 358.05,275.63 359.33,276.55 360.62,277.47 361.90,278.38 363.19,279.30 364.47,280.21 365.75,281.13 367.04,282.04 368.33,282.96 369.61,283.87 370.90,284.78 372.18,285.70 373.47,286.61 374.75,287.52 376.04,288.43 377.32,289.35 378.61,290.26 379.89,291.17 381.18,292.08 382.46,292.99 383.75,293.90 385.03,294.81 386.32,295.72 387.60,296.63 388.88,297.53 390.17,298.44 391.46,299.35 392.74,300.25 394.03,301.16 395.31,302.06 396.60,302.97 397.88,303.87 399.17,304.77 400.45,305.67 401.74,306.58 403.02,307.48 404.31,308.37 405.59,309.27 406.88,310.17 408.16,311.07 409.45,311.96 410.73,312.86 412.02,313.75 413.30,314.64 414.59,315.53 415.87,316.42 417.16,317.31 418.44,318.20 419.73,319.09 421.01,319.97 422.30,320.85 423.58,321.73 424.87,322.61 426.15,323.49 427.44,324.37 428.72,325.24 430.00,326.12 431.29,326.99 432.58,327.86 433.86,328.72 435.15,329.59 436.43,330.45 437.72,331.31 439.00,332.17 440.29,333.02 441.57,333.88 442.86,334.73 444.14,335.57 445.43,336.42 446.71,337.26 448.00,338.10 449.28,338.93 450.57,339.76 451.85,340.59 453.14,341.41 454.42,342.23 455.71,343.05 456.99,343.86 458.27,344.67 459.56,345.48 460.85,346.28 462.13,347.07 463.42,347.86 464.70,348.65 465.99,349.43 467.27,350.20 468.56,350.97 469.84,351.73 471.12,352.49 472.41,353.24 473.69,353.99 474.98,354.73 476.26,355.46 477.55,356.19 478.83,356.91 480.12,357.62 481.40,358.32 482.69,359.02 483.98,359.71 485.26,360.39 486.54,361.06 487.83,361.72 489.12,362.38 490.40,363.02 491.69,363.66 492.97,364.28 494.25,364.90 495.54,365.50 496.83,366.10 498.11,366.69 499.39,367.26 500.68,367.82 501.97,368.38 503.25,368.92 504.54,369.44 505.82,369.96 507.11,370.46 508.39,370.96 509.68,371.44 510.96,371.90 512.25,372.36 513.53,372.80 514.82,373.22 516.10,373.64 517.38,374.03 518.67,374.42 519.96,374.79 521.24,375.15 522.53,375.49 523.81,375.82 525.10,376.14 526.38,376.44 527.66,376.73 528.95,377.00 530.24,377.26 531.52,377.50 532.81,377.73 534.09,377.95 535.38,378.15 536.66,378.34 537.94,378.52 539.23,378.69 540.51,378.84 541.80,378.98 543.09,379.10 544.37,379.22 545.65,379.32 546.94,379.42 548.23,379.50 549.51,379.57 550.80,379.64 552.08,379.69 553.37,379.74 554.65,379.78 555.93,379.81 557.22,379.84 558.51,379.86 559.79,379.87 561.08,379.88 562.36,379.89 563.64,379.90 564.93,379.90 566.22,379.90 567.50,379.90 568.79,379.90 570.07,379.90 571.36,379.90 572.64,379.91 573.92,379.92 575.21,379.93 576.50,379.94 577.78,379.96 579.07,379.99 580.35,380.02 581.63,380.06 582.92,380.11 584.21,380.16 585.49,380.23 586.78,380.30 588.06,380.38 589.35,380.48 590.63,380.58 591.91,380.70 593.20,380.82 594.49,380.96 595.77,381.11 597.06,381.28 598.34,381.46 599.62,381.65 600.91,381.85 602.20,382.07 603.48,382.30 604.77,382.54 606.05,382.80 607.34,383.07 608.62,383.36 609.90,383.66 611.19,383.98 612.48,384.31 613.76,384.65 615.05,385.01 616.33,385.38 617.62,385.77 618.90,386.16 620.19,386.58 621.47,387.00 622.76,387.44 624.04,387.90 625.33,388.36 626.61,388.84 627.89,389.34 629.18,389.84 630.47,390.36 631.75,390.88 633.04,391.42 634.32,391.98 635.61,392.54 636.89,393.11 638.18,393.70 639.46,394.30 640.75,394.90 642.03,395.52 643.32,396.14 644.60,396.78 645.88,397.42 647.17,398.08 648.46,398.74 649.74,399.41 651.03,400.09 652.31,400.78 653.60,401.48 654.88,402.18 656.17,402.89 657.45,403.61 658.74,404.34 660.02,405.07 661.31,405.81 662.59,406.56 663.88,407.31 665.16,408.07 666.45,408.83 667.73,409.60 669.02,410.37 670.30,411.15 671.59,411.94 672.87,412.73 674.15,413.52 675.44,414.32 676.73,415.13 678.01,415.94 679.30,416.75 680.58,417.57 681.87,418.39 683.15,419.21 684.44,420.04 685.72,420.87 687.01,421.70 688.29,422.54 689.58,423.38 690.86,424.23 692.14,425.07 693.43,425.92 694.72,426.78 696.00,427.63 697.29,428.49 698.57,429.35 699.86,430.21 701.14,431.08 702.43,431.94 703.71,432.81 705.00,433.68 706.28,434.56 707.57,435.43 708.85,436.31 710.13,437.19 711.42,438.07 712.71,438.95 713.99,439.83 715.28,440.71 716.56,441.60 717.85,442.49 719.13,443.38 720.42,444.27 721.70,445.16 722.99,446.05 724.27,446.94 725.56,447.84 726.84,448.73 728.12,449.63 729.41,450.53 730.70,451.43 731.98,452.32 733.26,453.22 734.55,454.13 735.84,455.03 737.12,455.93 738.40,456.83 739.69,457.74 740.98,458.64 742.26,459.55 743.55,460.45 744.83,461.36 746.12,462.27 747.40,463.17 748.68,464.08 749.97,464.99 751.26,465.90 752.54,466.81 753.83,467.72 755.11,468.63 756.40,469.54 757.68,470.45 758.97,471.37 760.25,472.28 761.54,473.19 762.82,474.10 764.11,475.02 765.39,475.93 766.68,476.84 767.96,477.76 769.25,478.67 770.53,479.59 771.81,480.50 773.10,481.42 774.38,482.33 775.67,483.25 776.95,484.17 778.24,485.08 779.53,486.00 780.81,486.91 782.10,487.83 783.38,488.75 784.67,489.67 785.95,490.58 787.24,491.50 788.52,492.42 789.81,493.34 791.09,494.25 792.38,495.17 793.66,496.09 794.95,497.01 796.23,497.93 797.51,498.85 798.80,499.76 800.09,500.68 801.37,501.60 802.65,502.52 803.94,503.44 805.23,504.36 806.51,505.28 807.79,506.20 809.08,507.12 810.37,508.04 811.65,508.96 812.94,509.88 814.22,510.80 815.51,511.72 816.79,512.64 818.08,513.56 819.36,514.48 820.65,515.40 821.93,516.32 823.22,517.24 824.50,518.16 825.79,519.08 827.07,520.00 828.36,520.92 829.64,521.84 830.93,522.76 832.21,523.68 833.50,524.60 834.78,525.52 836.06,526.44 837.35,527.36 838.63,528.28 839.92,529.20 841.20,530.12 842.49,531.04 843.77,531.96 845.06,532.89 846.34,533.81 847.63,534.73 848.92,535.65 850.20,536.57 851.49,537.49 852.77,538.41 854.06,539.33 855.34,540.25 856.62,541.17 857.91,542.09 859.20,543.02 860.48,543.94 861.76,544.86 863.05,545.78 864.34,546.70 865.62,547.62 866.90,548.54 868.19,549.46 869.48,550.39 870.76,551.31 872.04,552.23 873.33,553.15 874.62,554.07 875.90,554.99 877.18,555.91 878.47,556.83 879.76,557.76 881.04,558.68 882.33,559.60 883.61,560.52 884.90,561.44 886.18,562.36 887.47,563.28 888.75,564.20 890.04,565.13 891.32,566.05 892.61,566.97 893.89,567.89 895.18,568.81 896.46,569.73 897.75,570.65 899.03,571.58 900.32,572.50 901.60,573.42 902.88,574.34 904.17,575.26 905.46,576.18 906.74,577.10 908.02,578.02 909.31,578.95 910.60,579.87 911.88,580.79 913.17,581.71 914.45,582.63 915.74,583.55 917.02,584.47 918.31,585.40 919.59,586.32 920.88,587.24 922.16,588.16 923.45,589.08 924.73,590.00 926.01,590.92 927.30,591.85" stroke="#1f77b4" stroke-width="4.90"/>
<polyline points="207.70,214.03 208.98,214.95 210.27,215.87 211.56,216.79 212.84,217.71 214.12,218.63 215.41,219.56 216.69,220.48 217.98,221.40 219.27,222.32 220.55,223.24 221.84,224.16 223.12,225.08 224.41,226.01 225.69,226.93 226.98,227.85 228.26,228.77 229.55,229.69 230.83,230.61 232.12,231.53 233.40,232.45 234.69,233.38 235.97,234.30 237.26,235.22 238.54,236.14 239.83,237.06 241.11,237.98 242.40,238.90 243.68,239.82 244.97,240.75 246.25,241.67 247.54,242.59 248.82,243.51 250.11,244.43 251.39,245.35 252.68,246.27 253.96,247.19 255.25,248.11 256.53,249.04 257.82,249.96 259.10,250.88 260.39,251.80 261.67,252.72 262.96,253.64 264.24,254.56 265.53,255.48 266.81,256.40 268.10,257.32 269.38,258.24 270.67,259.17 271.95,260.09 273.24,261.01 274.52,261.93 275.81,262.85 277.09,263.77 278.38,264.69 279.66,265.61 280.95,266.53 282.23,267.45 283.51,268.37 284.80,269.29 286.09,270.21 287.37,271.13 288.66,272.05 289.94,272.97 291.23,273.89 292.51,274.81 293.80,275.73 295.08,276.65 296.37,277.57 297.65,278.49 298.94,279.41 300.22,280.33 301.50,281.25 302.79,282.17 304.08,283.09 305.36,284.01 306.65,284.93 307.93,285.85 309.22,286.77 310.50,287.69 311.79,288.61 313.07,289.53 314.36,290.44 315.64,291.36 316.93,292.28 318.21,293.20 319.50,294.12 320.78,295.04 322.07,295.95 323.35,296.87 324.64,297.79 325.92,298.71 327.21,299.63 328.49,300.54 329.78,301.46 331.06,302.38 332.35,303.29 333.63,304.21 334.92,305.13 336.20,306.04 337.49,306.96 338.77,307.87 340.06,308.79 341.34,309.70 342.62,310.62 343.91,311.53 345.20,312.45 346.48,313.36 347.77,314.28 349.05,315.19 350.34,316.10 351.62,317.02 352.91,317.93 354.19,318.84 355.48,319.75 356.76,320.66 358.05,321.57 359.33,322.48 360.62,323.39 361.90,324.30 363.19,325.21 364.47,326.12 365.75,327.03 367.04,327.94 368.33,328.84 369.61,329.75 370.90,330.66 372.18,331.56 373.47,332.47 374.75,333.37 376.04,334.27 377.32,335.17 378.61,336.08 379.89,336.98 381.18,337.88 382.46,338.78 383.75,339.67 385.03,340.57 386.32,341.47 387.60,342.36 388.88,343.25 390.17,344.15 391.46,345.04 392.74,345.93 394.03,346.82 395.31,347.71 396.60,348.59 397.88,349.48 399.17,350.36 400.45,351.24 401.74,352.12 403.02,353.00 404.31,353.88 405.59,354.76 406.88,355.63 408.16,356.50 409.45,357.37 410.73,358.24 412.02,359.10 413.30,359.97 414.59,360.83 415.87,361.68 417.16,362.54 418.44,363.39 419.73,364.24 421.01,365.09 422.30,365.94 423.58,366.78 424.87,367.61 426.15,368.45 427.44,369.28 428.72,370.11 430.00,370.93 431.29,371.75 432.58,372.57 433.86,373.38 435.15,374.19 436.43,374.99 437.72,375.79 439.00,376.59 440.29,377.37 441.57,378.16 442.86,378.94 444.14,379.71 445.43,380.47 446.71,381.24 448.00,381.99 449.28,382.74 450.57,383.48 451.85,384.21 453.14,384.94 454.42,385.66 455.71,386.37 456.99,387.08 458.27,387.77 459.56,388.46 460.85,389.14 462.13,389.80 463.42,390.46 464.70,391.11 465.99,391.75 467.27,392.38 468.56,393.00 469.84,393.60 471.12,394.20 472.41,394.78 473.69,395.35 474.98,395.91 476.26,396.45 477.55,396.98 478.83,397.50 480.12,398.00 481.40,398.48 482.69,398.96 483.98,399.41 485.26,399.85 486.54,400.27 487.83,400.68 489.12,401.06 490.40,401.43 491.69,401.78 492.97,402.11 494.25,402.42 495.54,402.71 496.83,402.98 498.11,403.23 499.39,403.46 500.68,403.66 501.97,403.85 503.25,404.01 504.54,404.14 505.82,404.25 507.11,404.34 508.39,404.40 509.68,404.44 510.96,404.45 512.25,404.44 513.53,404.39 514.82,404.33 516.10,404.23 517.38,404.11 518.67,403.96 519.96,403.78 521.24,403.57 522.53,403.34 523.81,403.08 525.10,402.79 526.38,402.47 527.66,402.12 528.95,401.74 530.24,401.34 531.52,400.91 532.81,400.45 534.09,399.96 535.38,399.45 536.66,398.91 537.94,398.34 539.23,397.74 540.51,397.13 541.80,396.48 543.09,395.81 544.37,395.12 545.65,394.41 546.94,393.68 548.23,392.92 549.51,392.15 550.80,391.35 552.08,390.54 553.37,389.72 554.65,388.87 555.93,388.02 557.22,387.15 558.51,386.27 559.79,385.38 561.08,384.48 562.36,383.57 563.64,382.66 564.93,381.74 566.22,380.82 567.50,379.90 568.79,378.98 570.07,378.06 571.36,377.14 572.64,376.23 573.92,375.32 575.21,374.42 576.50,373.53 577.78,372.65 579.07,371.78 580.35,370.93 581.63,370.08 582.92,369.26 584.21,368.45 585.49,367.65 586.78,366.88 588.06,366.12 589.35,365.39 590.63,364.68 591.91,363.99 593.20,363.32 594.49,362.67 595.77,362.06 597.06,361.46 598.34,360.89 599.62,360.35 600.91,359.84 602.20,359.35 603.48,358.89 604.77,358.46 606.05,358.06 607.34,357.68 608.62,357.33 609.90,357.01 611.19,356.72 612.48,356.46 613.76,356.23 615.05,356.02 616.33,355.84 617.62,355.69 618.90,355.57 620.19,355.47 621.47,355.41 622.76,355.36 624.04,355.35 625.33,355.36 626.61,355.40 627.89,355.46 629.18,355.55 630.47,355.66 631.75,355.79 633.04,355.95 634.32,356.14 635.61,356.34 636.89,356.57 638.18,356.82 639.46,357.09 640.75,357.38 642.03,357.69 643.32,358.02 644.60,358.37 645.88,358.74 647.17,359.12 648.46,359.53 649.74,359.95 651.03,360.39 652.31,360.84 653.60,361.32 654.88,361.80 656.17,362.30 657.45,362.82 658.74,363.35 660.02,363.89 661.31,364.45 662.59,365.02 663.88,365.60 665.16,366.20 666.45,366.80 667.73,367.42 669.02,368.05 670.30,368.69 671.59,369.34 672.87,370.00 674.15,370.66 675.44,371.34 676.73,372.03 678.01,372.72 679.30,373.43 680.58,374.14 681.87,374.86 683.15,375.59 684.44,376.32 685.72,377.06 687.01,377.81 688.29,378.56 689.58,379.33 690.86,380.09 692.14,380.86 693.43,381.64 694.72,382.43 696.00,383.21 697.29,384.01 698.57,384.81 699.86,385.61 701.14,386.42 702.43,387.23 703.71,388.05 705.00,388.87 706.28,389.69 707.57,390.52 708.85,391.35 710.13,392.19 711.42,393.02 712.71,393.86 713.99,394.71 715.28,395.56 716.56,396.41 717.85,397.26 719.13,398.12 720.42,398.97 721.70,399.83 722.99,400.70 724.27,401.56 725.56,402.43 726.84,403.30 728.12,404.17 729.41,405.04 730.70,405.92 731.98,406.80 733.26,407.68 734.55,408.56 735.84,409.44 737.12,410.32 738.40,411.21 739.69,412.09 740.98,412.98 742.26,413.87 743.55,414.76 744.83,415.65 746.12,416.55 747.40,417.44 748.68,418.33 749.97,419.23 751.26,420.13 752.54,421.02 753.83,421.92 755.11,422.82 756.40,423.72 757.68,424.63 758.97,425.53 760.25,426.43 761.54,427.33 762.82,428.24 764.11,429.14 765.39,430.05 766.68,430.96 767.96,431.86 769.25,432.77 770.53,433.68 771.81,434.59 773.10,435.50 774.38,436.41 775.67,437.32 776.95,438.23 778.24,439.14 779.53,440.05 780.81,440.96 782.10,441.87 783.38,442.78 784.67,443.70 785.95,444.61 787.24,445.52 788.52,446.44 789.81,447.35 791.09,448.27 792.38,449.18 793.66,450.10 794.95,451.01 796.23,451.93 797.51,452.84 798.80,453.76 800.09,454.67 801.37,455.59 802.65,456.51 803.94,457.42 805.23,458.34 806.51,459.26 807.79,460.17 809.08,461.09 810.37,462.01 811.65,462.93 812.94,463.85 814.22,464.76 815.51,465.68 816.79,466.60 818.08,467.52 819.36,468.44 820.65,469.36 821.93,470.27 823.22,471.19 824.50,472.11 825.79,473.03 827.07,473.95 828.36,474.87 829.64,475.79 830.93,476.71 832.21,477.63 833.50,478.55 834.78,479.47 836.06,480.39 837.35,481.31 838.63,482.23 839.92,483.15 841.20,484.07 842.49,484.99 843.77,485.91 845.06,486.83 846.34,487.75 847.63,488.67 848.92,489.59 850.20,490.51 851.49,491.43 852.77,492.35 854.06,493.27 855.34,494.19 856.62,495.11 857.91,496.03 859.20,496.95 860.48,497.87 861.76,498.79 863.05,499.71 864.34,500.63 865.62,501.56 866.90,502.48 868.19,503.40 869.48,504.32 870.76,505.24 872.04,506.16 873.33,507.08 874.62,508.00 875.90,508.92 877.18,509.84 878.47,510.76 879.76,511.69 881.04,512.61 882.33,513.53 883.61,514.45 884.90,515.37 886.18,516.29 887.47,517.21 888.75,518.13 890.04,519.05 891.32,519.98 892.61,520.90 893.89,521.82 895.18,522.74 896.46,523.66 897.75,524.58 899.03,525.50 900.32,526.42 901.60,527.35 902.88,528.27 904.17,529.19 905.46,530.11 906.74,531.03 908.02,531.95 909.31,532.87 910.60,533.79 911.88,534.72 913.17,535.64 914.45,536.56 915.74,537.48 917.02,538.40 918.31,539.32 919.59,540.24 920.88,541.17 922.16,542.09 923.45,543.01 924.73,543.93 926.01,544.85 927.30,545.77" stroke="#ff7f0e" stroke-width="4.90"/>
<polyline points="207.70,-90.07 208.98,-88.22 210.27,-86.38 211.56,-84.54 212.84,-82.69 214.12,-80.85 215.41,-79.01 216.69,-77.17 217.98,-75.32 219.27,-73.48 220.55,-71.64 221.84,-69.79 223.12,-67.95 224.41,-66.11 225.69,-64.27 226.98,-62.42 228.26,-60.58 229.55,-58.74 230.83,-56.89 232.12,-55.05 233.40,-53.21 234.69,-51.36 235.97,-49.52 237.26,-47.68 238.54,-45.84 239.83,-43.99 241.11,-42.15 242.40,-40.31 243.68,-38.46 244.97,-36.62 246.25,-34.78 247.54,-32.94 248.82,-31.09 250.11,-29.25 251.39,-27.41 252.68,-25.57 253.96,-23.72 255.25,-21.88 256.53,-20.04 257.82,-18.19 259.10,-16.35 260.39,-14.51 261.67,-12.67 262.96,-10.82 264.24,-8.98 265.53,-7.14 266.81,-5.29 268.10,-3.45 269.38,-1.61 270.67,0.23 271.95,2.08 273.24,3.92 274.52,5.76 275.81,7.60 277.09,9.45 278.38,11.29 279.66,13.13 280.95,14.97 282.23,16.82 283.51,18.66 284.80,20.50 286.09,22.34 287.37,24.19 288.66,26.03 289.94,27.87 291.23,29.71 292.51,31.56 293.80,33.40 295.08,35.24 296.37,37.08 297.65,38.92 298.94,40.77 300.22,42.61 301.50,44.45 302.79,46.29 304.08,48.13 305.36,49.98 306.65,51.82 307.93,53.66 309.22,55.50 310.50,57.34 311.79,59.19 313.07,61.03 314.36,62.87 315.64,64.71 316.93,66.55 318.21,68.39 319.50,70.24 320.78,72.08 322.07,73.92 323.35,75.76 324.64,77.60 325.92,79.44 327.21,81.28 328.49,83.12 329.78,84.96 331.06,86.80 332.35,88.65 333.63,90.49 334.92,92.33 336.20,94.17 337.49,96.01 338.77,97.85 340.06,99.69 341.34,101.53 342.62,103.37 343.91,105.21 345.20,107.05 346.48,108.88 347.77,110.72 349.05,112.56 350.34,114.40 351.62,116.24 352.91,118.08 354.19,119.92 355.48,121.75 356.76,123.59 358.05,125.43 359.33,127.27 360.62,129.11 361.90,130.94 363.19,132.78 364.47,134.62 365.75,136.45 367.04,138.29 368.33,140.12 369.61,141.96 370.90,143.79 372.18,145.63 373.47,147.46 374.75,149.30 376.04,151.13 377.32,152.96 378.61,154.80 379.89,156.63 381.18,158.46 382.46,160.29 383.75,162.12 385.03,163.96 386.32,165.79 387.60,167.62 388.88,169.44 390.17,171.27 391.46,173.10 392.74,174.93 394.03,176.76 395.31,178.58 396.60,180.41 397.88,182.23 399.17,184.06 400.45,185.88 401.74,187.70 403.02,189.52 404.31,191.34 405.59,193.16 406.88,194.98 408.16,196.80 409.45,198.62 410.73,200.43 412.02,202.25 413.30,204.06 414.59,205.88 415.87,207.69 417.16,209.50 418.44,211.31 419.73,213.11 421.01,214.92 422.30,216.72 423.58,218.53 424.87,220.33 426.15,222.13 427.44,223.93 428.72,225.72 430.00,227.52 431.29,229.31 432.58,231.10 433.86,232.89 435.15,234.67 436.43,236.46 437.72,238.24 439.00,240.02 440.29,241.79 441.57,243.57 442.86,245.34 444.14,247.11 445.43,248.87 446.71,250.64 448.00,252.40 449.28,254.15 450.57,255.90 451.85,257.65 453.14,259.40 454.42,261.14 455.71,262.88 456.99,264.61 458.27,266.34 459.56,268.07 460.85,269.79 462.13,271.51 463.42,273.22 464.70,274.93 465.99,276.63 467.27,278.32 468.56,280.01 469.84,281.70 471.12,283.38 472.41,285.05 473.69,286.72 474.98,288.38 476.26,290.04 477.55,291.68 478.83,293.32 480.12,294.96 481.40,296.58 482.69,298.20 483.98,299.81 485.26,301.41 486.54,303.00 487.83,304.59 489.12,306.16 490.40,307.73 491.69,309.29 492.97,310.84 494.25,312.37 495.54,313.90 496.83,315.42 498.11,316.92 499.39,318.42 500.68,319.91 501.97,321.38 503.25,322.84 504.54,324.29 505.82,325.73 507.11,327.15 508.39,328.57 509.68,329.97 510.96,331.36 512.25,332.73 513.53,334.09 514.82,335.44 516.10,336.78 517.38,338.10 518.67,339.40 519.96,340.70 521.24,341.98 522.53,343.24 523.81,344.49 525.10,345.73 526.38,346.95 527.66,348.16 528.95,349.35 530.24,350.53 531.52,351.70 532.81,352.85 534.09,353.99 535.38,355.12 536.66,356.23 537.94,357.33 539.23,358.41 540.51,359.49 541.80,360.55 543.09,361.59 544.37,362.63 545.65,363.66 546.94,364.67 548.23,365.68 549.51,366.67 550.80,367.66 552.08,368.63 553.37,369.60 554.65,370.56 555.93,371.52 557.22,372.47 558.51,373.41 559.79,374.34 561.08,375.28 562.36,376.21 563.64,377.13 564.93,378.06 566.22,378.98 567.50,379.90 568.79,380.82 570.07,381.74 571.36,382.67 572.64,383.59 573.92,384.52 575.21,385.46 576.50,386.39 577.78,387.33 579.07,388.28 580.35,389.24 581.63,390.20 582.92,391.17 584.21,392.14 585.49,393.13 586.78,394.12 588.06,395.13 589.35,396.14 590.63,397.17 591.91,398.21 593.20,399.25 594.49,400.31 595.77,401.39 597.06,402.47 598.34,403.57 599.62,404.68 600.91,405.81 602.20,406.95 603.48,408.10 604.77,409.27 606.05,410.45 607.34,411.64 608.62,412.85 609.90,414.07 611.19,415.31 612.48,416.56 613.76,417.82 615.05,419.10 616.33,420.40 617.62,421.70 618.90,423.02 620.19,424.36 621.47,425.71 622.76,427.07 624.04,428.44 625.33,429.83 626.61,431.23 627.89,432.65 629.18,434.07 630.47,435.51 631.75,436.96 633.04,438.42 634.32,439.89 635.61,441.38 636.89,442.88 638.18,444.38 639.46,445.90 640.75,447.43 642.03,448.96 643.32,450.51 644.60,452.07 645.88,453.64 647.17,455.21 648.46,456.80 649.74,458.39 651.03,459.99 652.31,461.60 653.60,463.22 654.88,464.84 656.17,466.48 657.45,468.12 658.74,469.76 660.02,471.42 661.31,473.08 662.59,474.75 663.88,476.42 665.16,478.10 666.45,479.79 667.73,481.48 669.02,483.17 670.30,484.87 671.59,486.58 672.87,488.29 674.15,490.01 675.44,491.73 676.73,493.46 678.01,495.19 679.30,496.92 680.58,498.66 681.87,500.40 683.15,502.15 684.44,503.90 685.72,505.65 687.01,507.40 688.29,509.16 689.58,510.93 690.86,512.69 692.14,514.46 693.43,516.23 694.72,518.01 696.00,519.78 697.29,521.56 698.57,523.34 699.86,525.13 701.14,526.91 702.43,528.70 703.71,530.49 705.00,532.28 706.28,534.08 707.57,535.87 708.85,537.67 710.13,539.47 711.42,541.27 712.71,543.08 713.99,544.88 715.28,546.69 716.56,548.49 717.85,550.30 719.13,552.11 720.42,553.92 721.70,555.74 722.99,557.55 724.27,559.37 725.56,561.18 726.84,563.00 728.12,564.82 729.41,566.64 730.70,568.46 731.98,570.28 733.26,572.10 734.55,573.92 735.84,575.74 737.12,577.57 738.40,579.39 739.69,581.22 740.98,583.04 742.26,584.87 743.55,586.70 744.83,588.53 746.12,590.36 747.40,592.18 748.68,594.01 749.97,595.84 751.26,597.68 752.54,599.51 753.83,601.34 755.11,603.17 756.40,605.00 757.68,606.84 758.97,608.67 760.25,610.50 761.54,612.34 762.82,614.17 764.11,616.01 765.39,617.84 766.68,619.68 767.96,621.51 769.25,623.35 770.53,625.18 771.81,627.02 773.10,628.86 774.38,630.69 775.67,632.53 776.95,634.37 778.24,636.21 779.53,638.05 780.81,639.88 782.10,641.72 783.38,643.56 784.67,645.40 785.95,647.24 787.24,649.08 788.52,650.92 789.81,652.75 791.09,654.59 792.38,656.43 793.66,658.27 794.95,660.11 796.23,661.95 797.51,663.79 798.80,665.63 800.09,667.47 801.37,669.31 802.65,671.15 803.94,673.00 805.23,674.84 806.51,676.68 807.79,678.52 809.08,680.36 810.37,682.20 811.65,684.04 812.94,685.88 814.22,687.72 815.51,689.56 816.79,691.41 818.08,693.25 819.36,695.09 820.65,696.93 821.93,698.77 823.22,700.61 824.50,702.46 825.79,704.30 827.07,706.14 828.36,707.98 829.64,709.82 830.93,711.67 832.21,713.51 833.50,715.35 834.78,717.19 836.06,719.03 837.35,720.88 838.63,722.72 839.92,724.56 841.20,726.40 842.49,728.24 843.77,730.09 845.06,731.93 846.34,733.77 847.63,735.61 848.92,737.46 850.20,739.30 851.49,741.14 852.77,742.98 854.06,744.83 855.34,746.67 856.62,748.51 857.91,750.35 859.20,752.20 860.48,754.04 861.76,755.88 863.05,757.72 864.34,759.57 865.62,761.41 866.90,763.25 868.19,765.09 869.48,766.94 870.76,768.78 872.04,770.62 873.33,772.47 874.62,774.31 875.90,776.15 877.18,777.99 878.47,779.84 879.76,781.68 881.04,783.52 882.33,785.37 883.61,787.21 884.90,789.05 886.18,790.89 887.47,792.74 888.75,794.58 890.04,796.42 891.32,798.26 892.61,800.11 893.89,801.95 895.18,803.79 896.46,805.64 897.75,807.48 899.03,809.32 900.32,811.16 901.60,813.01 902.88,814.85 904.17,816.69 905.46,818.54 906.74,820.38 908.02,822.22 909.31,824.07 910.60,825.91 911.88,827.75 913.17,829.59 914.45,831.44 915.74,833.28 917.02,835.12 918.31,836.97 919.59,838.81 920.88,840.65 922.16,842.49 923.45,844.34 924.73,846.18 926.01,848.02 927.30,849.87" stroke="#2ca02c" stroke-width="4.90"/>
<polyline points="207.70,-43.99 208.98,-42.15 210.27,-40.31 211.56,-38.46 212.84,-36.62 214.12,-34.78 215.41,-32.94 216.69,-31.09 217.98,-29.25 219.27,-27.41 220.55,-25.56 221.84,-23.72 223.12,-21.88 224.41,-20.04 225.69,-18.19 226.98,-16.35 228.26,-14.51 229.55,-12.66 230.83,-10.82 232.12,-8.98 233.40,-7.14 234.69,-5.29 235.97,-3.45 237.26,-1.61 238.54,0.24 239.83,2.08 241.11,3.92 242.40,5.76 243.68,7.61 244.97,9.45 246.25,11.29 247.54,13.13 248.82,14.98 250.11,16.82 251.39,18.66 252.68,20.50 253.96,22.35 255.25,24.19 256.53,26.03 257.82,27.88 259.10,29.72 260.39,31.56 261.67,33.40 262.96,35.24 264.24,37.09 265.53,38.93 266.81,40.77 268.10,42.61 269.38,44.46 270.67,46.30 271.95,48.14 273.24,49.98 274.52,51.83 275.81,53.67 277.09,55.51 278.38,57.35 279.66,59.19 280.95,61.04 282.23,62.88 283.51,64.72 284.80,66.56 286.09,68.40 287.37,70.25 288.66,72.09 289.94,73.93 291.23,75.77 292.51,77.61 293.80,79.45 295.08,81.30 296.37,83.14 297.65,84.98 298.94,86.82 300.22,88.66 301.50,90.50 302.79,92.34 304.08,94.18 305.36,96.03 306.65,97.87 307.93,99.71 309.22,101.55 310.50,103.39 311.79,105.23 313.07,107.07 314.36,108.91 315.64,110.75 316.93,112.59 318.21,114.43 319.50,116.27 320.78,118.11 322.07,119.95 323.35,121.79 324.64,123.63 325.92,125.47 327.21,127.31 328.49,129.14 329.78,130.98 331.06,132.82 332.35,134.66 333.63,136.50 334.92,138.33 336.20,140.17 337.49,142.01 338.77,143.85 340.06,145.68 341.34,147.52 342.62,149.36 343.91,151.19 345.20,153.03 346.48,154.86 347.77,156.70 349.05,158.53 350.34,160.37 351.62,162.20 352.91,164.04 354.19,165.87 355.48,167.70 356.76,169.54 358.05,171.37 359.33,173.20 360.62,175.03 361.90,176.86 363.19,178.69 364.47,180.52 365.75,182.35 367.04,184.18 368.33,186.01 369.61,187.84 370.90,189.67 372.18,191.49 373.47,193.32 374.75,195.14 376.04,196.97 377.32,198.79 378.61,200.62 379.89,202.44 381.18,204.26 382.46,206.08 383.75,207.90 385.03,209.72 386.32,211.53 387.60,213.35 388.88,215.17 390.17,216.98 391.46,218.79 392.74,220.61 394.03,222.42 395.31,224.23 396.60,226.03 397.88,227.84 399.17,229.65 400.45,231.45 401.74,233.25 403.02,235.05 404.31,236.85 405.59,238.65 406.88,240.44 408.16,242.23 409.45,244.03 410.73,245.81 412.02,247.60 413.30,249.39 414.59,251.17 415.87,252.95 417.16,254.72 418.44,256.50 419.73,258.27 421.01,260.04 422.30,261.81 423.58,263.57 424.87,265.33 426.15,267.08 427.44,268.84 428.72,270.59 430.00,272.33 431.29,274.07 432.58,275.81 433.86,277.55 435.15,279.27 436.43,281.00 437.72,282.72 439.00,284.44 440.29,286.15 441.57,287.85 442.86,289.55 444.14,291.24 445.43,292.93 446.71,294.61 448.00,296.29 449.28,297.96 450.57,299.62 451.85,301.28 453.14,302.93 454.42,304.57 455.71,306.20 456.99,307.83 458.27,309.44 459.56,311.05 460.85,312.65 462.13,314.24 463.42,315.82 464.70,317.39 465.99,318.95 467.27,320.50 468.56,322.04 469.84,323.57 471.12,325.08 472.41,326.59 473.69,328.08 474.98,329.56 476.26,331.02 477.55,332.48 478.83,333.91 480.12,335.34 481.40,336.74 482.69,338.14 483.98,339.51 485.26,340.87 486.54,342.22 487.83,343.54 489.12,344.85 490.40,346.14 491.69,347.41 492.97,348.66 494.25,349.90 495.54,351.11 496.83,352.30 498.11,353.47 499.39,354.62 500.68,355.75 501.97,356.85 503.25,357.93 504.54,358.99 505.82,360.02 507.11,361.03 508.39,362.01 509.68,362.97 510.96,363.90 512.25,364.81 513.53,365.69 514.82,366.54 516.10,367.37 517.38,368.17 518.67,368.94 519.96,369.68 521.24,370.40 522.53,371.09 523.81,371.75 525.10,372.38 526.38,372.98 527.66,373.55 528.95,374.10 530.24,374.62 531.52,375.11 532.81,375.57 534.09,376.00 535.38,376.41 536.66,376.79 537.94,377.14 539.23,377.47 540.51,377.77 541.80,378.05 543.09,378.31 544.37,378.54 545.65,378.75 546.94,378.93 548.23,379.10 549.51,379.25 550.80,379.37 552.08,379.48 553.37,379.58 554.65,379.66 555.93,379.72 557.22,379.78 558.51,379.82 559.79,379.85 561.08,379.87 562.36,379.88 563.64,379.89 564.93,379.90 566.22,379.90 567.50,379.90 568.79,379.90 570.07,379.90 571.36,379.91 572.64,379.92 573.92,379.93 575.21,379.95 576.50,379.98 577.78,380.02 579.07,380.08 580.35,380.14 581.63,380.22 582.92,380.32 584.21,380.43 585.49,380.55 586.78,380.70 588.06,380.87 589.35,381.05 590.63,381.26 591.91,381.49 593.20,381.75 594.49,382.03 595.77,382.33 597.06,382.66 598.34,383.01 599.62,383.39 600.91,383.80 602.20,384.23 603.48,384.69 604.77,385.18 606.05,385.70 607.34,386.25 608.62,386.82 609.90,387.42 611.19,388.05 612.48,388.71 613.76,389.40 615.05,390.12 616.33,390.86 617.62,391.63 618.90,392.43 620.19,393.26 621.47,394.11 622.76,394.99 624.04,395.90 625.33,396.83 626.61,397.79 627.89,398.77 629.18,399.78 630.47,400.81 631.75,401.87 633.04,402.95 634.32,404.05 635.61,405.18 636.89,406.33 638.18,407.50 639.46,408.69 640.75,409.90 642.03,411.14 643.32,412.39 644.60,413.66 645.88,414.95 647.17,416.26 648.46,417.58 649.74,418.93 651.03,420.29 652.31,421.66 653.60,423.06 654.88,424.46 656.17,425.89 657.45,427.32 658.74,428.78 660.02,430.24 661.31,431.72 662.59,433.21 663.88,434.72 665.16,436.23 666.45,437.76 667.73,439.30 669.02,440.85 670.30,442.41 671.59,443.98 672.87,445.56 674.15,447.15 675.44,448.75 676.73,450.36 678.01,451.97 679.30,453.60 680.58,455.23 681.87,456.87 683.15,458.52 684.44,460.18 685.72,461.84 687.01,463.51 688.29,465.19 689.58,466.87 690.86,468.56 692.14,470.25 693.43,471.95 694.72,473.65 696.00,475.36 697.29,477.08 698.57,478.80 699.86,480.53 701.14,482.25 702.43,483.99 703.71,485.73 705.00,487.47 706.28,489.21 707.57,490.96 708.85,492.72 710.13,494.47 711.42,496.23 712.71,497.99 713.99,499.76 715.28,501.53 716.56,503.30 717.85,505.08 719.13,506.85 720.42,508.63 721.70,510.41 722.99,512.20 724.27,513.99 725.56,515.77 726.84,517.57 728.12,519.36 729.41,521.15 730.70,522.95 731.98,524.75 733.26,526.55 734.55,528.35 735.84,530.15 737.12,531.96 738.40,533.77 739.69,535.57 740.98,537.38 742.26,539.19 743.55,541.01 744.83,542.82 746.12,544.63 747.40,546.45 748.68,548.27 749.97,550.08 751.26,551.90 752.54,553.72 753.83,555.54 755.11,557.36 756.40,559.18 757.68,561.01 758.97,562.83 760.25,564.66 761.54,566.48 762.82,568.31 764.11,570.13 765.39,571.96 766.68,573.79 767.96,575.62 769.25,577.45 770.53,579.28 771.81,581.11 773.10,582.94 774.38,584.77 775.67,586.60 776.95,588.43 778.24,590.26 779.53,592.10 780.81,593.93 782.10,595.76 783.38,597.60 784.67,599.43 785.95,601.27 787.24,603.10 788.52,604.94 789.81,606.77 791.09,608.61 792.38,610.44 793.66,612.28 794.95,614.12 796.23,615.95 797.51,617.79 798.80,619.63 800.09,621.47 801.37,623.30 802.65,625.14 803.94,626.98 805.23,628.82 806.51,630.66 807.79,632.49 809.08,634.33 810.37,636.17 811.65,638.01 812.94,639.85 814.22,641.69 815.51,643.53 816.79,645.37 818.08,647.21 819.36,649.05 820.65,650.89 821.93,652.73 823.22,654.57 824.50,656.41 825.79,658.25 827.07,660.09 828.36,661.93 829.64,663.77 830.93,665.62 832.21,667.46 833.50,669.30 834.78,671.14 836.06,672.98 837.35,674.82 838.63,676.66 839.92,678.50 841.20,680.35 842.49,682.19 843.77,684.03 845.06,685.87 846.34,687.71 847.63,689.55 848.92,691.40 850.20,693.24 851.49,695.08 852.77,696.92 854.06,698.76 855.34,700.61 856.62,702.45 857.91,704.29 859.20,706.13 860.48,707.97 861.76,709.82 863.05,711.66 864.34,713.50 865.62,715.34 866.90,717.19 868.19,719.03 869.48,720.87 870.76,722.71 872.04,724.56 873.33,726.40 874.62,728.24 875.90,730.08 877.18,731.92 878.47,733.77 879.76,735.61 881.04,737.45 882.33,739.30 883.61,741.14 884.90,742.98 886.18,744.82 887.47,746.67 888.75,748.51 890.04,750.35 891.32,752.19 892.61,754.04 893.89,755.88 895.18,757.72 896.46,759.56 897.75,761.41 899.03,763.25 900.32,765.09 901.60,766.94 902.88,768.78 904.17,770.62 905.46,772.46 906.74,774.31 908.02,776.15 909.31,777.99 910.60,779.84 911.88,781.68 913.17,783.52 914.45,785.36 915.74,787.21 917.02,789.05 918.31,790.89 919.59,792.74 920.88,794.58 922.16,796.42 923.45,798.26 924.73,800.11 926.01,801.95 927.30,803.79" stroke="#d62728" stroke-width="4.90"/>
</g>
<g shape-rendering="crispEdges">
<rect x="245" y="11" width="1" height="738" fill="#000" fill-opacity="0.25"/>
<rect x="246" y="11" width="1" height="738" fill="#000" fill-opacity="0.4"/>
<rect x="888" y="11" width="1" height="738" fill="#000" fill-opacity="0.4"/>
<rect x="889" y="11" width="1" height="738" fill="#000" fill-opacity="0.25"/>
<rect x="245" y="11" width="645" height="1" fill="#000" fill-opacity="0.53"/>
<rect x="245" y="748" width="645" height="1" fill="#000" fill-opacity="0.53"/>
</g>
<g shape-rendering="crispEdges" fill="#444">
<rect x="242" y="103" width="4" height="1"/>
<rect x="242" y="656" width="4" height="1"/>
<rect x="242" y="379" width="4" height="1" fill-opacity="0.8"/>
<rect x="242" y="380" width="4" height="1" fill-opacity="0.2"/>
<rect x="310" y="749" width="1" height="4"/>
<rect x="567" y="749" width="1" height="4"/>
<rect x="824" y="749" width="1" height="4"/>
</g>
<g transform="matrix(1.12690,0.00107,0.00113,1.07028,116.388,122.527)"><text x="0" y="0" font-size="50">6.00</text></g>
<g transform="matrix(1.11949,0.00107,0.00112,1.06994,116.579,398.854)"><text x="0" y="0" font-size="50">0.00</text></g>
<g transform="matrix(1.06701,0.00096,0.00107,0.95508,97.659,674.028)"><text x="0" y="0" font-size="50">-</text></g>
<g transform="matrix(1.12837,0.00107,0.00113,1.07392,115.931,675.292)"><text x="0" y="0" font-size="50">6.00</text></g>
<g transform="matrix(1.06733,0.00103,0.00107,1.02541,245.873,805.383)"><text x="0" y="0" font-size="50">-</text></g>
<g transform="matrix(1.12049,0.00108,0.00112,1.07756,264.830,805.816)"><text x="0" y="0" font-size="50">4.00</text></g>
<g transform="matrix(1.12193,0.00108,0.00112,1.07750,512.782,805.813)"><text x="0" y="0" font-size="50">0.00</text></g>
<g transform="matrix(1.12140,0.00108,0.00112,1.07745,770.047,805.812)"><text x="0" y="0" font-size="50">4.00</text></g>
<g transform="matrix(1.09731,0.00102,0.00110,1.02082,541.642,874.246)"><text x="0" y="0" font-size="72" font-style="italic">x</text></g>
<g transform="matrix(1.07837,0.00105,0.00108,1.04920,583.101,886.035)"><text x="0" y="0" font-size="50" font-style="italic">i</text></g>
<g transform="matrix(0.00104,-1.07864,1.03661,0.00108,77.184,453.277)"><text x="0" y="0" font-size="72">d</text></g>
<g transform="matrix(0.00105,-1.04880,1.04646,0.00105,77.707,496.978)"><text x="0" y="0" font-size="72">e</text></g>
<g transform="matrix(0.00104,-1.07574,1.03623,0.00108,77.737,541.375)"><text x="0" y="0" font-size="72">n</text></g>
<g transform="matrix(0.00104,-1.27679,1.03675,0.00128,77.545,571.732)"><text x="0" y="0" font-size="72">r</text></g>
<g transform="matrix(0.00105,-0.88778,1.04916,0.00089,77.745,613.511)"><text x="0" y="0" font-size="72">a</text></g>
<g transform="matrix(0.00105,-1.03907,1.04940,0.00104,77.718,658.149)"><text x="0" y="0" font-size="72">e</text></g>
<g transform="matrix(0.00104,-1.04866,1.04167,0.00105,77.553,677.001)"><text x="0" y="0" font-size="72">l</text></g>
<g transform="matrix(0.00103,-1.14284,1.02686,0.00114,76.760,386.662)"><text x="0" y="0" font-size="72" font-style="italic">ϕ</text></g>
<g transform="matrix(0.00103,-11.89169,11.34817,0.00108,24.952,312.632)"><path d="M0.0000,-1.0000 L-0.0000,1.0000 M-0.8660,-0.5000 L0.8660,0.5000 M-0.8660,0.5000 L0.8660,-0.5000" stroke="#000" stroke-width="0.230" fill="none"/></g>
<g transform="matrix(0.00095,-0.84512,0.95123,0.00085,72.611,286.463)"><text x="0" y="0" font-size="72">(</text></g>
<g transform="matrix(0.00103,-1.01475,1.02915,0.00101,77.555,260.073)"><text x="0" y="0" font-size="72" font-weight="bold">a</text></g>
<g transform="matrix(0.00105,-1.05983,1.04637,0.00106,89.259,211.727)"><text x="0" y="0" font-size="50" font-style="italic">i</text></g>
<g transform="matrix(0.00101,-1.43303,1.00580,0.00143,76.733,200.491)"><text x="0" y="0" font-size="72">,</text></g>
<g transform="matrix(0.00101,-1.06983,1.00624,0.00107,77.188,158.886)"><text x="0" y="0" font-size="72" font-style="italic">x</text></g>
<g transform="matrix(0.00104,-1.05110,1.04405,0.00105,89.041,117.631)"><text x="0" y="0" font-size="50" font-style="italic">i</text></g>
<g transform="matrix(0.00095,-0.85313,0.95135,0.00085,72.679,97.823)"><text x="0" y="0" font-size="72">)</text></g>
</svg></body></html>
